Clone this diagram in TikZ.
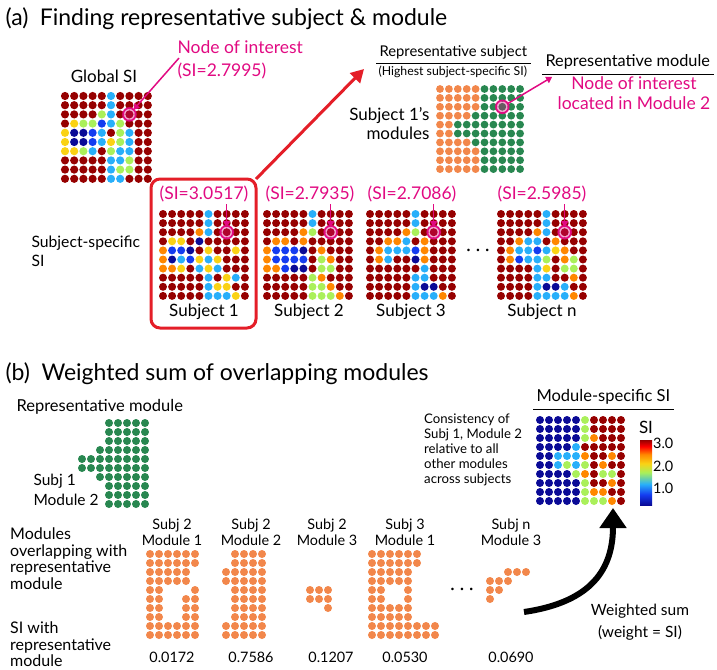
\documentclass[tikz,border=0pt]{standalone}
\usepackage{fontspec}
\setmainfont{Lato}
\usetikzlibrary{arrows.meta}

% dot colours (jet scale and module colours)
\definecolor{R}{RGB}{150,0,0}
\definecolor{O}{RGB}{255,135,0}
\definecolor{Y}{RGB}{250,210,20}
\definecolor{G}{RGB}{170,240,90}
\definecolor{C}{RGB}{40,175,250}
\definecolor{B}{RGB}{20,60,240}
\definecolor{N}{RGB}{10,10,150}
\definecolor{M}{RGB}{242,135,75}
\definecolor{E}{RGB}{40,135,80}
\definecolor{W}{RGB}{255,255,255}
\definecolor{pk}{RGB}{225,10,130}
\definecolor{rd}{RGB}{228,30,40}

\pgfdeclareverticalshading{jet}{100bp}{color(0bp)=(N); color(25bp)=(N);
  color(33bp)=(B); color(41bp)=(C); color(50bp)=(G); color(57bp)=(Y);
  color(64bp)=(O); color(70bp)=(red); color(75bp)=(R); color(100bp)=(R)}

% 10 x 10 (or smaller) grid of dots, rows given as lists of colours
\newcommand{\dotgrid}[5]{%
  \foreach \row [count=\j from 0] in {#5} {
    \foreach \c [count=\i from 0] in \row {
      \fill[fill=\c] ({#1+\i*#3},{#2+\j*#3}) circle (#4pt);
    }
  }
}
% node of interest ring
\newcommand{\noiring}[3]{%
  \coordinate (#1) at (#2,#3);
  \fill[pk, opacity=.35] (#1) circle (7.5pt);
  \draw[pk, line width=1.6pt] (#1) circle (6.3pt);
}

\begin{document}
\begin{tikzpicture}[x=1pt, y=-1pt,
    title/.style={font=\fontsize{23}{26}\selectfont, anchor=west},
    lbl/.style={font=\fontsize{17}{19}\selectfont},
    pinklbl/.style={font=\fontsize{17.5}{20}\selectfont, text=pk},
    small/.style={font=\fontsize{14.4}{16}\selectfont},
    tiny/.style={font=\fontsize{13.2}{15}\selectfont},
    pinkarrow/.style={pk, line width=1.5pt, -{Triangle[length=6pt, width=7pt]}},
    redarrow/.style={rd, line width=3pt, -{Triangle[length=13pt, width=14pt]}},
    sumarrow/.style={black, line width=6pt, -{Triangle[length=20pt, width=26pt]}}]

	\useasboundingbox (0,0) rectangle (717,669);

	% ---------------- (a) ----------------
	\node[title] (ta) at (2,19) {(a)\enspace Finding representative subject \& module};

	\node[lbl] (glab) at (104,76) {Global SI};
	\dotgrid{65}{96}{9.2}{4.1}{
		{R,R,R,R,R,C,R,R,R,R},
		{R,R,R,R,R,C,R,R,R,R},
		{R,R,R,R,G,C,R,R,R,R},
		{R,Y,G,G,B,C,G,R,R,R},
		{Y,N,N,B,C,R,G,C,R,R},
		{Y,N,N,B,C,Y,G,C,R,R},
		{Y,Y,G,C,R,G,C,C,R,R},
		{R,R,R,R,R,C,C,G,R,R},
		{R,R,R,R,R,C,G,G,R,R},
		{R,R,R,R,R,C,C,R,R,R}}
	\noiring{ringG}{129.4}{114.4}
	\node[pinklbl, anchor=west] (noiA) at (174,47) {Node of interest};
	\node[pinklbl, anchor=west] (noiB) at (174,71) {(SI=2.7995)};
	\draw[pinkarrow, shorten >=6pt] ([xshift=5pt, yshift=-1pt]noiA.south west) -- (ringG);

	% subject-specific SI
	\node[font=\fontsize{15.7}{19}\selectfont, align=left, anchor=west] (sslab) at (28,251) {Subject-specific\\SI};
	\coordinate (boxNE) at (256,179);
	\draw[rd, line width=3pt, rounded corners=9pt] (151,179) rectangle (256,328);
	\dotgrid{163}{214}{9.1}{4}{
		{R,R,R,R,R,C,R,R,R,R},
		{R,R,R,R,R,C,R,R,R,R},
		{R,R,R,R,O,C,R,R,R,R},
		{R,Y,Y,R,N,R,R,R,R,R},
		{O,B,B,N,R,Y,R,R,Y,R},
		{O,N,C,B,Y,C,Y,R,R,R},
		{O,O,Y,R,C,Y,C,R,R,R},
		{R,R,R,R,R,C,R,Y,C,R},
		{R,R,R,R,R,C,Y,Y,R,R},
		{R,R,R,R,R,C,C,C,Y,R}}
	\dotgrid{267}{214}{9.1}{4}{
		{R,R,R,R,R,C,R,R,R,R},
		{R,R,R,R,R,C,R,R,R,R},
		{R,R,R,R,O,G,R,R,R,R},
		{R,O,O,R,O,R,R,R,R,R},
		{O,B,B,B,N,R,O,R,R,R},
		{O,B,B,B,B,R,G,O,R,R},
		{O,O,B,N,N,R,G,G,R,R},
		{R,R,R,R,R,G,O,R,R,R},
		{R,R,R,R,R,G,G,O,R,R},
		{R,R,R,R,R,G,G,G,O,R}}
	\dotgrid{370}{214}{9.1}{4}{
		{R,R,R,R,R,C,R,R,R,R},
		{R,R,R,R,R,C,R,R,R,R},
		{R,R,R,R,O,G,R,R,R,R},
		{R,R,O,O,C,R,O,R,R,R},
		{R,O,C,C,C,B,O,R,R,R},
		{R,O,C,R,R,N,O,R,R,R},
		{R,R,R,R,R,R,C,R,R,R},
		{R,R,R,R,R,C,C,R,R,R},
		{R,R,R,R,R,C,N,N,R,R},
		{R,R,R,R,R,C,C,C,O,R}}
	\dotgrid{501}{214}{9.1}{4}{
		{R,R,R,R,R,C,R,R,R,R},
		{R,R,R,R,R,C,R,R,R,R},
		{R,R,R,R,O,C,R,R,R,R},
		{R,R,O,C,C,R,O,R,R,R},
		{R,O,C,C,B,C,Y,O,R,R},
		{R,O,B,C,C,G,R,O,G,R},
		{R,R,R,R,C,Y,R,G,G,R},
		{R,R,R,R,C,C,R,R,O,R},
		{R,R,R,R,C,N,N,C,R,R},
		{R,R,R,R,C,C,C,C,O,R}}
	\noiring{ring1}{226.7}{232.2}
	\noiring{ring2}{330.7}{232.2}
	\noiring{ring3}{433.7}{232.2}
	\noiring{ringn}{564.7}{232.2}
	\foreach \s/\x in {1/226.7, 2/330.7, 3/433.7, n/564.7} {
		\coordinate (pin\s) at (\x,204);
		\draw[pinkarrow, shorten >=5pt] (pin\s) -- (ring\s);
	}
	\node[pinklbl] (si1) at (204,194) {(SI=3.0517)};
	\node[pinklbl] (si2) at (310,194) {(SI=2.7935)};
	\node[pinklbl] (si3) at (412,194) {(SI=2.7086)};
	\node[pinklbl] (sin) at (542,194) {(SI=2.5985)};
	\node[lbl] (sub1) at (204,312) {Subject 1};
	\node[lbl] (sub2) at (309,312) {Subject 2};
	\node[lbl] (sub3) at (411,312) {Subject 3};
	\node[lbl] (subn) at (542,312) {Subject n};
	\node[lbl] (sdots) at (478,252) {·\hspace{5pt}·\hspace{5pt}·};

	% representative subject
	\node[font=\fontsize{14.8}{17}\selectfont, anchor=west] (rslab) at (376,52) {Representative subject};
	\draw[line width=0.8pt] ([yshift=-1pt]rslab.south west) -- ([yshift=-1pt]rslab.south east);
	\node[font=\fontsize{12.3}{15}\selectfont, anchor=west] (rshigh) at (375,72) {(Highest subject-specific SI)};
	\node[lbl, align=right, anchor=east] (rsmod) at (433,124) {Subject 1's\\modules};
	\dotgrid{440}{89}{8.9}{3.9}{
		{M,M,M,M,M,E,E,E,E,E},
		{M,M,M,M,M,E,E,E,E,E},
		{M,M,M,M,M,E,E,E,E,E},
		{M,M,M,M,E,E,E,E,E,E},
		{M,M,E,E,E,E,E,E,E,E},
		{M,M,E,E,E,E,E,E,E,E},
		{M,M,M,M,E,E,E,E,E,E},
		{M,M,M,M,M,E,E,E,E,E},
		{M,M,M,M,M,E,E,E,E,E},
		{M,M,M,M,M,E,E,E,E,E}}
	\noiring{ringR}{502.3}{106.8}
	\coordinate (rsTip) at (364,69);
	\draw[redarrow] (boxNE) -- (rsTip);

	% representative module
	\node[font=\fontsize{16.3}{19}\selectfont, anchor=west] (rmlab) at (542,62) {Representative module};
	\draw[line width=0.8pt] ([yshift=-1pt]rmlab.south west) -- ([yshift=-1pt]rmlab.south east);
	\node[pinklbl, align=center] (rmnoi) at (634,93) {Node of interest\\located in Module 2};
	\draw[pinkarrow, shorten <=6pt] (ringR) -- ([xshift=-2pt, yshift=-4pt]rmnoi.north west);

	% ---------------- (b) ----------------
	\node[title] (tb) at (2,374) {(b)\enspace Weighted sum of overlapping modules};

	\node[font=\fontsize{16.5}{19}\selectfont, anchor=west] (rmod) at (13,407) {Representative module};
	\dotgrid{64}{423}{9}{4}{
		{W,W,W,W,W,E,E,E,E,E},
		{W,W,W,W,W,E,E,E,E,E},
		{W,W,W,W,W,E,E,E,E,E},
		{W,W,W,W,E,E,E,E,E,E},
		{W,W,E,E,E,E,E,E,E,E},
		{W,W,E,E,E,E,E,E,E,E},
		{W,W,W,W,E,E,E,E,E,E},
		{W,W,W,W,W,E,E,E,E,E},
		{W,W,W,W,W,E,E,E,E,E},
		{W,W,W,W,W,E,E,E,E,E}}
	\node[font=\fontsize{15.5}{18}\selectfont, align=left, anchor=west] (s1m2) at (30,490) {Subj 1\\[2pt]Module 2};

	\node[font=\fontsize{16}{16.4}\selectfont, align=left, anchor=north west, inner sep=0pt] (ovlab) at (10,528) {Modules\\overlapping with\\representative\\module};
	\node[font=\fontsize{16}{16.4}\selectfont, align=left, anchor=north west, inner sep=0pt] (silab) at (10,622) {SI with\\representative\\module};

	% overlapping modules
	\node[small, align=center] (m21) at (172,532) {Subj 2\\Module 1};
	\node[small, align=center] (m22) at (251,532) {Subj 2\\Module 2};
	\node[small, align=center] (m23) at (327,532) {Subj 2\\Module 3};
	\node[small, align=center] (m31) at (405,532) {Subj 3\\Module 1};
	\node[small, align=center] (mn3) at (511,532) {Subj n\\Module 3};
	\dotgrid{150}{554}{9}{4}{
		{M,M,M,M,M,M},
		{M,M,M,M,M,M},
		{M,M,M,M,M,W},
		{M,M,M,M,M,W},
		{M,M,W,W,W,M},
		{M,M,W,W,M,M},
		{M,M,W,W,M,M},
		{M,M,W,W,M,M},
		{M,M,M,M,M,M},
		{M,M,M,M,M,M}}
	\dotgrid{226}{554}{9}{4}{
		{W,M,M,M,M},
		{W,M,M,M,M},
		{M,M,M,M,M},
		{M,M,M,M,M},
		{W,M,M,M,M},
		{W,M,M,M,M},
		{W,M,M,M,M},
		{W,M,M,M,M},
		{M,M,M,M,M},
		{M,M,M,M,M}}
	\dotgrid{310}{590}{9}{4}{
		{M,M,M},
		{M,M,M},
		{W,W,M}}
	\dotgrid{372}{554}{9}{4}{
		{M,M,M,M,M,M,W,W},
		{M,M,M,M,M,M,W,W},
		{M,M,M,M,M,W,W,W},
		{M,M,M,M,M,W,W,W},
		{M,M,W,W,M,W,W,W},
		{M,M,W,W,M,W,W,W},
		{M,M,M,M,M,W,W,W},
		{M,M,M,M,M,W,W,W},
		{M,M,M,M,M,M,M,M},
		{M,M,M,M,M,M,M,M}}
	\node[lbl] (mdots) at (462,591) {·\hspace{5pt}·\hspace{5pt}·};
	\dotgrid{490}{572}{9}{4}{
		{W,W,M,M,M},
		{M,M,M,W,W},
		{M,M,W,W,W},
		{M,W,W,W,W}}
	\node[small] (v21) at (172,657) {0.0172};
	\node[small] (v22) at (251,657) {0.7586};
	\node[small] (v23) at (331,657) {0.1207};
	\node[small] (v31) at (405,657) {0.0530};
	\node[small] (vn3) at (511,657) {0.0690};

	% module-specific SI
	\node[font=\fontsize{16.5}{19}\selectfont, anchor=west] (mslab) at (533,397) {Module-specific SI};
	\draw[line width=0.8pt] ([yshift=-1pt]mslab.south west) -- ([yshift=-1pt]mslab.south east);
	\node[tiny, align=left, anchor=north west, inner sep=0pt] (cons) at (424,414) {Consistency of\\Subj 1, Module 2\\relative to all\\other modules\\across subjects};
	\dotgrid{540}{420}{9}{4}{
		{N,N,N,N,N,G,R,R,R,R},
		{N,N,N,N,N,G,R,R,R,R},
		{N,N,N,N,N,G,O,R,R,R},
		{N,N,N,N,C,R,R,R,R,R},
		{N,N,C,C,C,O,R,R,O,R},
		{N,N,C,G,C,G,R,O,R,R},
		{N,N,N,N,G,O,R,G,G,R},
		{N,N,N,N,N,G,R,R,O,R},
		{N,N,N,N,N,G,O,O,R,R},
		{N,N,N,N,N,G,G,G,O,R}}
	\node[lbl] (cbl) at (646,427) {SI};
	\shade[shading=jet] (640,440) rectangle (652,505);
	\node[small, anchor=west, inner sep=1pt] (t3) at (652,443) {3.0};
	\node[small, anchor=west, inner sep=1pt] (t2) at (652,466) {2.0};
	\node[small, anchor=west, inner sep=1pt] (t1) at (652,488) {1.0};

	% weighted sum
	\coordinate (wsStart) at (524,612);
	\coordinate (wsTip) at (613,508);
	\draw[sumarrow] (wsStart) .. controls (585,603) and (613,575) .. (wsTip);
	\node[font=\fontsize{15.5}{18}\selectfont] (wsum) at (640,611) {Weighted sum};
	\node[font=\fontsize{15.5}{18}\selectfont] (wgt) at (640,633) {(weight = SI)};

\end{tikzpicture}
\end{document}
